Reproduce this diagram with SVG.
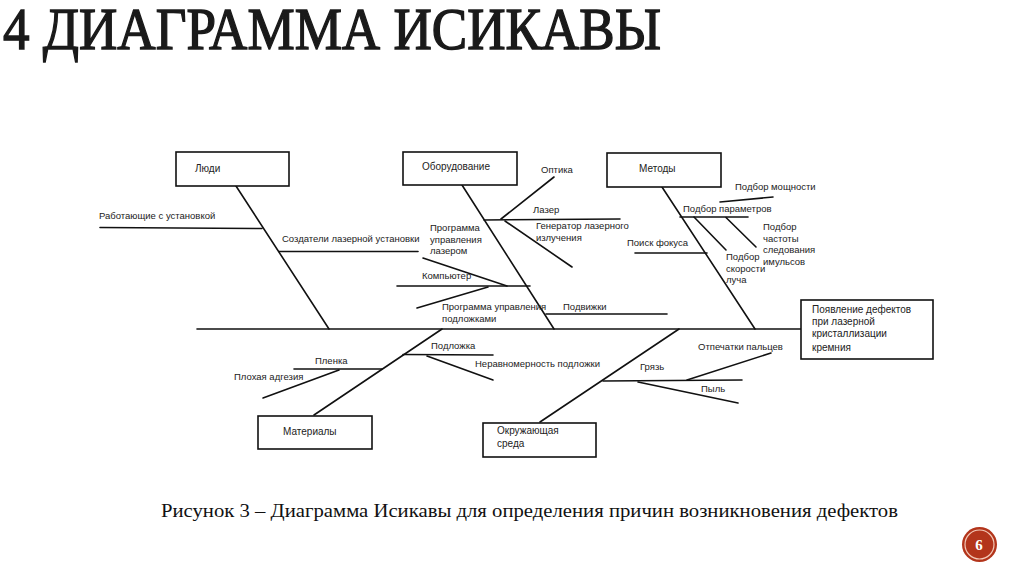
<svg xmlns="http://www.w3.org/2000/svg" width="1024" height="574" viewBox="0 0 1024 574">
<style>
.box{fill:#fff;stroke:#111;stroke-width:1.6}
.ln{stroke:#111;stroke-width:1.6;fill:none;stroke-linecap:round}
.t{font-family:"Liberation Sans","DejaVu Sans",sans-serif;font-size:9.5px;fill:#222}
.bt{font-family:"Liberation Sans","DejaVu Sans",sans-serif;font-size:10px;fill:#222}
.title{font-family:"Liberation Serif","DejaVu Serif",serif;font-size:59px;fill:#1a1a1a;stroke:#1a1a1a;stroke-width:1.4}
.cap{font-family:"Liberation Serif","DejaVu Serif",serif;font-size:18px;fill:#111}
</style>
<rect width="1024" height="574" fill="#fff"/>
<text class="title" x="3" y="49" textLength="658" lengthAdjust="spacingAndGlyphs">4 ДИАГРАММА ИСИКАВЫ</text>

<g id="connectors">
<line class="ln" x1="197" y1="329" x2="801" y2="329"/>
<line class="ln" x1="236" y1="186" x2="329" y2="329"/>
<line class="ln" x1="100" y1="227.5" x2="262" y2="228.5"/>
<line class="ln" x1="279" y1="251.5" x2="418" y2="251.5"/>
<line class="ln" x1="462" y1="185" x2="554" y2="329"/>
<line class="ln" x1="554" y1="177" x2="501" y2="219"/>
<line class="ln" x1="484" y1="220" x2="620" y2="219"/>
<line class="ln" x1="505" y1="221" x2="572" y2="267"/>
<line class="ln" x1="423" y1="258" x2="507" y2="286"/>
<line class="ln" x1="397" y1="286" x2="530" y2="286"/>
<line class="ln" x1="417" y1="308" x2="488" y2="287"/>
<line class="ln" x1="546" y1="314" x2="667" y2="314"/>
<line class="ln" x1="662" y1="187" x2="755" y2="329"/>
<line class="ln" x1="720" y1="202" x2="773" y2="197"/>
<line class="ln" x1="680" y1="217" x2="748" y2="217"/>
<line class="ln" x1="694" y1="217" x2="726" y2="250"/>
<line class="ln" x1="726" y1="217.5" x2="756" y2="247"/>
<line class="ln" x1="635" y1="253" x2="707" y2="253"/>
<line class="ln" x1="442" y1="329" x2="314" y2="415"/>
<line class="ln" x1="403" y1="354.5" x2="493" y2="355"/>
<line class="ln" x1="427" y1="356" x2="493" y2="380"/>
<line class="ln" x1="294" y1="369" x2="382" y2="369"/>
<line class="ln" x1="339" y1="370" x2="263" y2="398"/>
<line class="ln" x1="679" y1="329" x2="540" y2="422"/>
<line class="ln" x1="603" y1="381" x2="742" y2="380"/>
<line class="ln" x1="687" y1="380" x2="771" y2="353"/>
<line class="ln" x1="638" y1="382" x2="738" y2="403"/>
</g>

<g id="labels">
<text class="t" x="99" y="219">Работающие с установкой</text>
<text class="t" x="282" y="242">Создатели лазерной установки</text>
<text class="t" x="541" y="173">Оптика</text>
<text class="t" x="533" y="213">Лазер</text>
<text class="t" x="536" y="229">Генератор лазерного</text>
<text class="t" x="536" y="241">излучения</text>
<text class="t" x="430" y="231">Программа</text>
<text class="t" x="430" y="242.5">управления</text>
<text class="t" x="430" y="254">лазером</text>
<text class="t" x="422" y="279">Компьютер</text>
<text class="t" x="442" y="310">Программа управления</text>
<text class="t" x="442" y="322">подложками</text>
<text class="t" x="563" y="310">Подвижки</text>
<text class="t" x="735" y="190">Подбор мощности</text>
<text class="t" x="683" y="212">Подбор параметров</text>
<text class="t" x="726" y="260">Подбор</text>
<text class="t" x="726" y="271.5">скорости</text>
<text class="t" x="726" y="283">луча</text>
<text class="t" x="763" y="230">Подбор</text>
<text class="t" x="763" y="241.5">частоты</text>
<text class="t" x="763" y="253">следования</text>
<text class="t" x="763" y="264.5">имульсов</text>
<text class="t" x="627" y="246">Поиск фокуса</text>
<text class="t" x="431" y="349">Подложка</text>
<text class="t" x="475" y="367">Неравномерность подложки</text>
<text class="t" x="315" y="364">Пленка</text>
<text class="t" x="234" y="380">Плохая адгезия</text>
<text class="t" x="640" y="370">Грязь</text>
<text class="t" x="698" y="350">Отпечатки пальцев</text>
<text class="t" x="701" y="392">Пыль</text>
</g>

<g id="people">
<rect class="box" x="176" y="152" width="113" height="34"/>
<text class="bt" x="195" y="172">Люди</text>
</g>
<g id="equipment">
<rect class="box" x="403" y="152" width="114" height="33"/>
<text class="bt" x="422" y="170">Оборудование</text>
</g>
<g id="methods">
<rect class="box" x="607" y="153" width="114" height="34"/>
<text class="bt" x="639" y="172">Методы</text>
</g>
<g id="materials">
<rect class="box" x="258" y="416" width="114" height="33"/>
<text class="bt" x="283" y="435">Материалы</text>
</g>
<g id="environment">
<rect class="box" x="483" y="423" width="113" height="34"/>
<text class="bt" x="497" y="433.5">Окружающая</text>
<text class="bt" x="497" y="447">среда</text>
</g>
<g id="effect">
<rect class="box" x="801" y="300" width="132" height="59"/>
<text class="bt" x="812" y="313">Появление дефектов</text>
<text class="bt" x="812" y="325">при лазерной</text>
<text class="bt" x="812" y="337">кристаллизации</text>
<text class="bt" x="812" y="351">кремния</text>
</g>

<text class="cap" x="161" y="517" textLength="737" lengthAdjust="spacingAndGlyphs">Рисунок 3 – Диаграмма Исикавы для определения причин возникновения дефектов</text>

<g id="page-number">
<circle cx="979.5" cy="544.5" r="17.5" fill="#b3351b"/>
<circle cx="979.5" cy="544.5" r="14.5" fill="none" stroke="#f3c9b8" stroke-width="1.2"/>
<text x="979" y="550" text-anchor="middle" font-family="Liberation Serif, serif" font-weight="bold" font-size="15" fill="#fff">6</text>
</g>
</svg>
